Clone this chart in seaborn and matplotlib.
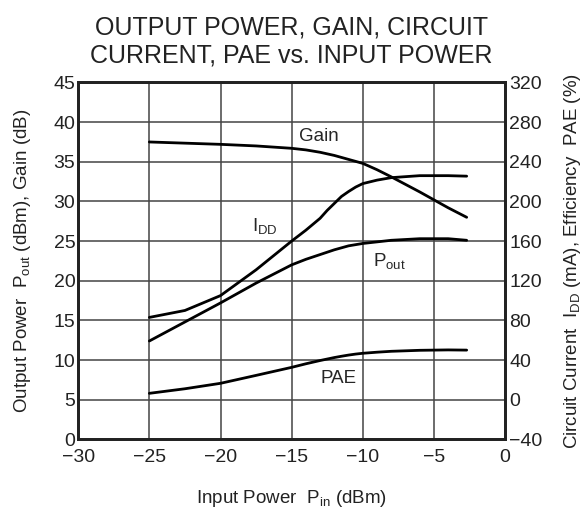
import numpy as np
import pandas as pd
import matplotlib
matplotlib.use('Agg')
import matplotlib.pyplot as plt
import seaborn as sns

# data
pin = [-25, -22.5, -20, -17.5, -15, -14, -13, -12.5, -12, -11.5, -11, -10.5, -10, -9, -8, -6, -4, -2.7]
gain = [37.5, 37.35, 37.2, 37.0, 36.7, 36.5, 36.2, 36.0, 35.8, 35.55, 35.3, 35.05, 34.8, 34.0, 33.1, 31.2,
        29.2, 28.0]
pout = [12.4, 14.8, 17.2, 19.7, 22.0, 22.7, 23.3, 23.6, 23.9, 24.15, 24.4, 24.55, 24.7, 24.9, 25.1, 25.3,
        25.3, 25.1]
idd = [83, 90, 105, 131, 160, 171, 183, 191, 198, 205, 210, 214.5, 218, 221.5, 224, 226, 226, 225.5]
pae = [6.4, 11, 16.5, 24.5, 32.6, 36.2, 39.5, 41.0, 42.5, 43.8, 45, 46.0, 46.8, 47.9, 48.8, 49.8, 50.2,
       50.0]

x_ticks = [-30, -25, -20, -15, -10, -5, 0]
left_ticks = list(range(0, 46, 5))
right_ticks = list(range(-40, 321, 40))

df = pd.DataFrame({'pin': pin, 'gain': gain, 'pout': pout, 'idd': idd, 'pae': pae})

sns.set_style('white')
plt.rcParams['font.family'] = ['Liberation Sans', 'DejaVu Sans']
plt.rcParams['mathtext.fontset'] = 'custom'
plt.rcParams['mathtext.rm'] = 'Liberation Sans'

fig = plt.figure(figsize=(5.88, 5.14), dpi=100)
ax = fig.add_axes([0.133, 0.1453, 0.726, 0.6942])
ax2 = ax.twinx()

lw = 2.0
sns.lineplot(data=df, x='pin', y='gain', ax=ax, color='black', lw=lw)
sns.lineplot(data=df, x='pin', y='pout', ax=ax, color='black', lw=lw)
sns.lineplot(data=df, x='pin', y='idd', ax=ax2, color='black', lw=lw)
sns.lineplot(data=df, x='pin', y='pae', ax=ax2, color='black', lw=lw)

ax.set_xlim(-30, 0)
ax.set_ylim(0, 45)
ax2.set_ylim(-40, 320)
ax.set_xticks(x_ticks)
ax.set_yticks(left_ticks)
ax2.set_yticks(right_ticks)

# grid lines (inner only)
for xv in x_ticks[1:-1]:
    ax.axvline(xv, color='#444444', lw=1.1, zorder=0)
for yv in left_ticks[1:-1]:
    ax.axhline(yv, color='#444444', lw=1.1, zorder=0)

for a in (ax, ax2):
    a.tick_params(length=0, labelsize=14, colors='#222222', pad=3)
    for s in a.spines.values():
        s.set_linewidth(2.0)
        s.set_color('#222222')
ax.tick_params(axis='x', pad=7)
ax.tick_params(axis='y', pad=2)

# curve labels
ax.text(-13.1, 38.2, 'Gain', fontsize=13.5, ha='center', va='center')
ax.text(-16.9, 26.8, r'I$_{\mathregular{DD}}$', fontsize=13.5, ha='center', va='center')
ax.text(-8.1, 22.4, r'P$_{\mathregular{out}}$', fontsize=13.5, ha='center', va='center')
ax.text(-11.7, 7.7, 'PAE', fontsize=13.5, ha='center', va='center')

ax.set_xlabel(r'Input Power  P$_{\mathregular{in}}$ (dBm)', fontsize=13.5, labelpad=16, color='#222222')
ax.set_ylabel(r'Output Power  P$_{\mathregular{out}}$ (dBm), Gain (dB)', fontsize=13.5, labelpad=15,
              color='#222222')
ax2.set_ylabel(r'Circuit Current  I$_{\mathregular{DD}}$ (mA), Efficiency  PAE (%)', fontsize=13.5,
               labelpad=14, color='#222222')
ax.set_title('OUTPUT POWER, GAIN, CIRCUIT\nCURRENT, PAE vs. INPUT POWER', fontsize=18,
             pad=14.5, color='#222222', linespacing=1.2)

fig.savefig('out.png', dpi=100)
